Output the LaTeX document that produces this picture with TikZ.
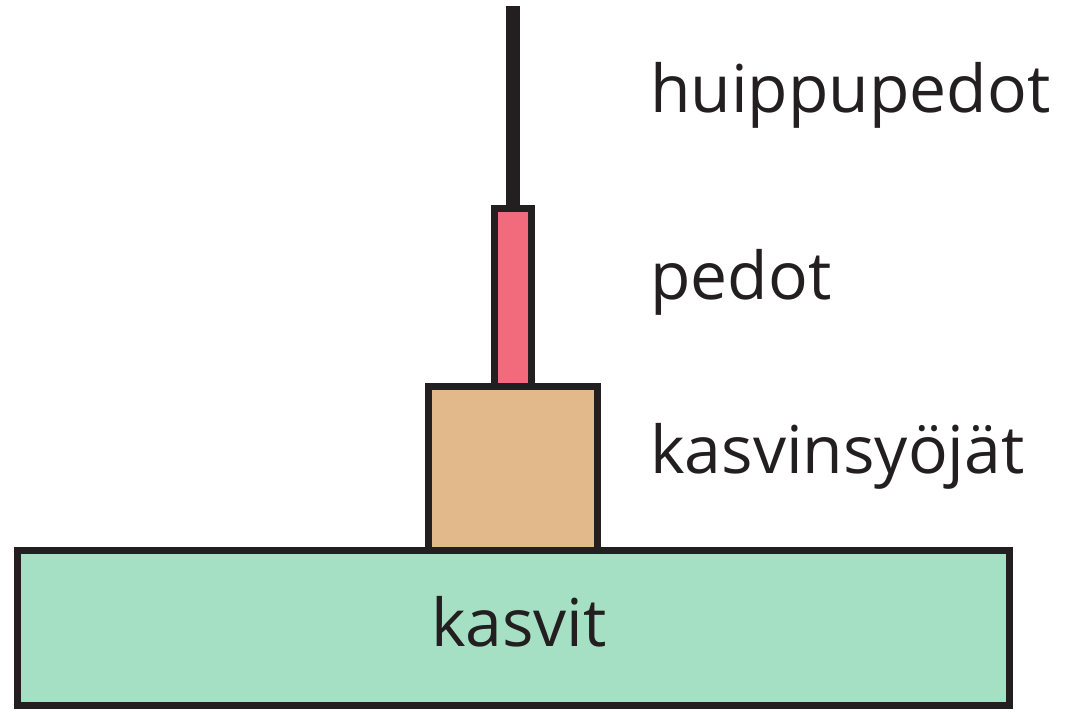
\documentclass[tikz,border=0pt]{standalone}
\usepackage{fontspec}
\setmainfont{Open Sans}
\definecolor{kasvigreen}{HTML}{A6E0C4}
\definecolor{syojabrown}{HTML}{E2B98A}
\definecolor{petopink}{HTML}{F26B7C}
\definecolor{outline}{HTML}{231F20}
\begin{document}
\begin{tikzpicture}[x=1pt,y=1pt,line join = miter, line cap = butt]
			\useasboundingbox (0,0) rectangle (1068,713);
			\tikzset{level/.style={draw=outline,line width=7pt},
				tag/.style={anchor=base west,inner sep=0pt,font=\fontsize{66}{72}\selectfont,text=outline}}
			\coordinate (A) at (17,8);
			\coordinate (B) at (1009,163);
			\coordinate (C) at (428.5,163);
			\coordinate (D) at (597.5,326.5);
			\coordinate (E) at (494.5,326.5);
			\coordinate (F) at (531.5,504.5);
			\coordinate (G) at (513,504.5);
			\coordinate (H) at (513,707);
			\draw[level,fill=kasvigreen] (A) rectangle (B);
			\draw[level,fill=syojabrown] (C) rectangle (D);
			\draw[level,fill=petopink] (E) rectangle (F);
			\draw[outline,line width=14pt] (G)--(H);
			\node[tag] (huippu) at (650,600) {huippupedot};
			\node[tag] (pedot) at (650,413) {pedot};
			\node[tag] (syojat) at (650,240) {kasvinsyöjät};
			\node[tag,anchor=base] (kasvit) at (519,67) {kasvit};
		\end{tikzpicture}
\end{document}
